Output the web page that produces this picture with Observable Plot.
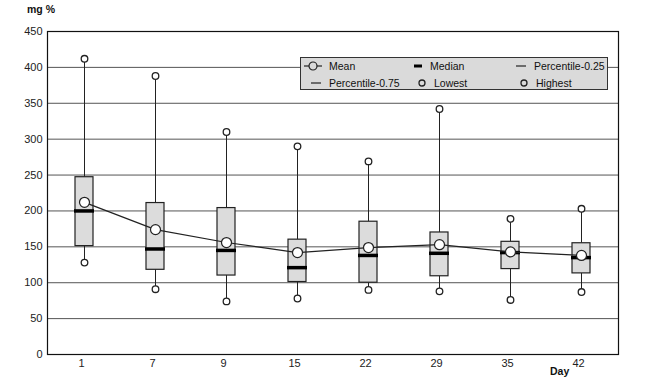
<!DOCTYPE html>
<html><head><meta charset="utf-8">
<script src="https://cdn.jsdelivr.net/npm/d3@7"></script>
<script src="https://cdn.jsdelivr.net/npm/@observablehq/plot@0.6"></script>
<style>
body{margin:0;background:#fff;font-family:"Liberation Sans",Arial,sans-serif;}
#wrap{position:relative;width:658px;height:380px;overflow:hidden;}
.lab{position:absolute;font-size:10.5px;font-weight:bold;color:#111;}
#legend{position:absolute;left:300px;top:57px;width:306px;height:31px;background:#dadada;border:1.5px solid #333;font-size:10.5px;color:#111;}
.item{position:absolute;display:flex;align-items:center;white-space:nowrap;}
.item svg{margin-right:6px;}
</style></head><body><div id="wrap"></div>
<script>
const days = ["1","7","9","15","22","29","35","42"];
const lowest = [128,91,74,78,90,88,76,87];
const p25 = [151,118,110,101,100,109,119,113];
const median = [200,147,145,121,138,141,142,135];
const p75 = [247,211,204,160,185,170,157,155];
const highest = [412,388,310,290,269,342,189,203];
const mean = [212,174,156,142,149,153,143,138];
const yTicks = [0,50,100,150,200,250,300,350,400,450];
const legendLabels = ["Mean","Median","Percentile-0.25","Percentile-0.75","Lowest","Highest"];
const yLabel = "mg %";
const xLabel = "Day";

const rows = days.map((d,i)=>({day:d,low:lowest[i],q1:p25[i],med:median[i],q3:p75[i],high:highest[i],mean:mean[i]}));

const chart = Plot.plot({
  width:658, height:380,
  marginLeft:47, marginRight:40, marginTop:31, marginBottom:26,
  style:{background:"white", fontSize:"11px", fontFamily:"Liberation Sans, Arial, sans-serif", color:"#222"},
  x:{domain:days, type:"band", paddingInner:0.75, paddingOuter:0.375, align:0.5, label:null},
  y:{domain:[0,450], label:null},
  marks:[
    Plot.ruleY(yTicks,{stroke:"#555", strokeWidth:1}),
    Plot.axisY({ticks:yTicks, tickSize:0, tickPadding:5, label:null}),
    Plot.axisX({tickSize:0, tickPadding:5, label:null, dx:-3}),
    Plot.ruleX(rows,{x:"day", y1:"q3", y2:"high", stroke:"#222"}),
    Plot.ruleX(rows,{x:"day", y1:"low", y2:"q1", stroke:"#222"}),
    Plot.barY(rows,{x:"day", y1:"q1", y2:"q3", fill:"#dcdcdc", stroke:"#222", strokeWidth:1.2}),
    Plot.tickY(rows,{x:"day", y:"med", stroke:"#000", strokeWidth:3.5, insetLeft:-1, insetRight:-1}),
    Plot.lineY(rows,{x:"day", y:"mean", stroke:"#222", strokeWidth:1.2}),
    Plot.dot(rows,{x:"day", y:"mean", r:5, fill:"white", stroke:"#222", strokeWidth:1.2}),
    Plot.dot(rows,{x:"day", y:"low", r:3.3, fill:"white", stroke:"#222", strokeWidth:1.3}),
    Plot.dot(rows,{x:"day", y:"high", r:3.3, fill:"white", stroke:"#222", strokeWidth:1.3}),
    Plot.frame({stroke:"#111", strokeWidth:1.2})
  ]
});
const wrap = document.getElementById("wrap");
wrap.appendChild(chart);

function lab(t,x,y){const d=document.createElement("div");d.className="lab";d.textContent=t;d.style.left=x+"px";d.style.top=y+"px";wrap.appendChild(d);}
lab(yLabel,27,3);
lab(xLabel,550,365);

const sym = {
  mean:'<svg width="20" height="12"><line x1="1" y1="6" x2="19" y2="6" stroke="#222" stroke-width="1.2"/><circle cx="10" cy="6" r="4" fill="#dadada" stroke="#222" stroke-width="1.2"/></svg>',
  median:'<svg width="12" height="12"><line x1="2" y1="6" x2="10" y2="6" stroke="#000" stroke-width="3"/></svg>',
  pct:'<svg width="14" height="12"><line x1="2" y1="6" x2="12" y2="6" stroke="#222" stroke-width="1.2"/></svg>',
  dot:'<svg width="12" height="12"><circle cx="6" cy="6" r="3" fill="none" stroke="#222" stroke-width="1.3"/></svg>'
};
const legend=document.createElement("div");legend.id="legend";wrap.appendChild(legend);
const pos=[[2,2,sym.mean],[111,2,sym.median],[213,2,sym.pct],[8,19,sym.pct],[115,19,sym.dot],[217,19,sym.dot]];
legendLabels.forEach((t,i)=>{const it=document.createElement("div");it.className="item";it.style.left=pos[i][0]+"px";it.style.top=pos[i][1]+"px";it.innerHTML=pos[i][2]+"<span></span>";it.querySelector("span").textContent=t;legend.appendChild(it);});
</script></body></html>
